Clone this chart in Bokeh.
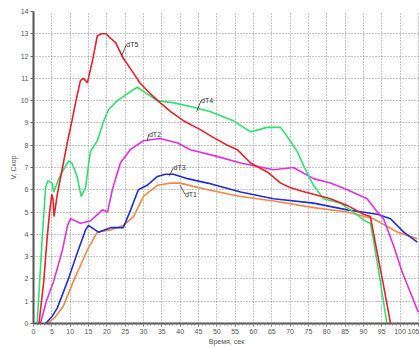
from bokeh.plotting import figure
from bokeh.models import Range1d, FixedTicker
from bokeh.core.properties import value
from bokeh.embed import file_html
from bokeh.resources import INLINE

# ---- data ----
x_dT5 = [1.5, 2.8, 3.7, 4.4, 5.0, 5.3, 5.6, 6.5, 7.8, 9.2, 10.5, 11.6, 12.8, 13.6, 14.7, 16.1, 17.4, 18.5, 19.8, 21.0,
         22.4, 24.5, 27.0, 29.0, 31.9, 34.6, 37.5, 40.9, 45.5, 49.0, 52.9, 55.6, 59.2, 63.8, 67.4, 70.0, 73.0, 76.4,
         81.0, 85.6, 90.0, 91.9, 92.7, 93.5, 95.5, 97.4]
y_dT5 = [0.0, 1.9, 3.8, 5.0, 5.8, 5.6, 4.8, 5.8, 6.9, 8.1, 9.1, 10.0, 10.9, 11.0, 10.8, 11.8, 12.9, 13.0, 13.0, 12.8,
         12.6, 11.9, 11.3, 10.8, 10.3, 9.9, 9.5, 9.1, 8.7, 8.35, 8.0, 7.8, 7.2, 6.8, 6.3, 6.1, 5.95, 5.8,
         5.6, 5.3, 4.9, 4.8, 4.1, 3.4, 1.7, 0.0]

x_dT4 = [1.0, 2.4, 3.3, 3.9, 5.1, 5.5, 6.0, 6.9, 8.2, 9.6, 10.5, 11.9, 13.0, 14.2, 15.5, 17.4, 19.2, 20.5, 22.9, 26.4,
         28.3, 31.0, 33.7, 38.3, 43.7, 48.3, 54.5, 59.2, 61.5, 63.7, 67.4, 70.0, 72.0, 74.2, 76.4, 79.1, 83.7, 87.3,
         90.5, 91.9, 92.7, 94.5, 96.4]
y_dT4 = [0.0, 3.9, 6.1, 6.4, 6.3, 5.9, 6.1, 6.5, 6.9, 7.3, 7.2, 6.6, 5.7, 6.1, 7.7, 8.2, 9.1, 9.6, 10.0, 10.4,
         10.6, 10.3, 10.0, 9.9, 9.7, 9.5, 9.1, 8.6, 8.7, 8.8, 8.8, 8.2, 7.7, 6.9, 6.2, 5.6, 5.4, 5.0,
         4.6, 4.5, 3.8, 2.0, 0.0]

x_dT2 = [1.9, 3.5, 5.5, 7.9, 9.3, 10.1, 11.5, 12.8, 15.5, 17.5, 18.8, 20.2, 21.5, 23.7, 26.4, 30.0, 34.6, 39.3, 42.8,
         50.0, 56.5, 65.5, 70.9, 76.4, 81.0, 85.6, 91.0, 93.8, 95.5, 98.2, 100.6, 102.8, 105.0]
y_dT2 = [0.0, 1.0, 1.9, 3.3, 4.4, 4.7, 4.6, 4.5, 4.6, 4.9, 5.1, 5.0, 6.0, 7.2, 7.8, 8.2, 8.3, 8.1, 7.8,
         7.5, 7.2, 6.9, 7.0, 6.5, 6.3, 6.0, 5.6, 5.0, 4.7, 3.5, 2.3, 1.4, 0.5]

x_dT3 = [3.3, 5.0, 6.5, 9.3, 12.0, 14.2, 15.0, 17.7, 21.0, 24.5, 26.5, 28.6, 31.0, 33.8, 36.0, 38.2, 42.0, 47.5, 56.5,
         65.5, 76.4, 85.6, 93.8, 97.4, 101.0, 104.7]
y_dT3 = [0.0, 0.3, 0.7, 1.9, 3.2, 4.2, 4.4, 4.1, 4.3, 4.3, 5.1, 6.0, 6.2, 6.6, 6.7, 6.7, 6.5, 6.3, 5.9,
         5.6, 5.4, 5.1, 4.9, 4.7, 4.1, 3.65]

x_dT1 = [3.8, 6.0, 8.2, 10.9, 14.7, 17.4, 21.0, 24.5, 27.3, 30.0, 33.8, 37.4, 40.0, 47.5, 56.5, 65.5, 76.4, 85.6, 92.7,
         99.3, 104.7]
y_dT1 = [0.0, 0.3, 0.8, 1.9, 3.3, 4.1, 4.2, 4.4, 4.8, 5.7, 6.2, 6.3, 6.3, 6.0, 5.7, 5.5, 5.2, 5.0, 4.7,
         4.1, 3.8]

series_names = ["dT5", "dT4", "dT2", "dT3", "dT1"]
x_ticks = list(range(0, 110, 5))
y_ticks = list(range(0, 15))

# label anchors (series point -> text position)
lab_x0 = [24.0, 44.5, 31.0, 37.0, 40.0]
lab_y0 = [12.0, 9.5, 8.2, 6.6, 6.2]
lab_x1 = [25.3, 45.7, 31.5, 38.2, 41.3]
lab_y1 = [12.5, 10.0, 8.5, 7.0, 5.8]

colors = ["#e8202a", "#30e070", "#e030e0", "#2030d0", "#f08848"]

p = figure(width=419, height=347, output_backend="svg", toolbar_location=None,
           x_range=Range1d(0, 105.3), y_range=Range1d(0, 14),
           min_border_left=33, min_border_top=11, min_border_bottom=22, min_border_right=0)
p.outline_line_color = None
p.background_fill_color = "white"

for ax in (p.xaxis[0], p.yaxis[0]):
    ax.axis_line_color = "#555555"
    ax.axis_line_width = 2
    ax.major_tick_line_color = "#666666"
    ax.minor_tick_line_color = "#888888"
    ax.major_tick_out = 3
    ax.major_tick_in = 0
    ax.minor_tick_out = 2
    ax.minor_tick_in = 0
    ax.major_label_text_font = "Liberation Sans"
    ax.major_label_text_font_size = "7px"
    ax.major_label_text_color = "#555555"
    ax.axis_label_text_font = "Liberation Sans"
    ax.axis_label_text_font_size = "7px"
    ax.axis_label_text_font_style = "normal"
    ax.axis_label_text_color = "#555555"
    ax.major_label_standoff = 2
    ax.axis_label_standoff = 1

p.xaxis[0].ticker = FixedTicker(ticks=x_ticks, minor_ticks=list(range(0, 106)))
p.yaxis[0].ticker = FixedTicker(ticks=y_ticks)
p.xaxis.axis_label = "Время, сек"
p.yaxis.axis_label = "V, Скор"

p.xgrid.ticker = FixedTicker(ticks=x_ticks)
p.ygrid.ticker = FixedTicker(ticks=y_ticks)
for g in (p.xgrid[0], p.ygrid[0]):
    g.grid_line_color = "#888888"
    g.grid_line_dash = "1 2"
    g.grid_line_width = 1

xs = [x_dT5, x_dT4, x_dT2, x_dT3, x_dT1]
ys = [y_dT5, y_dT4, y_dT2, y_dT3, y_dT1]
# draw order: bottom curves first
for i in [4, 3, 2, 1, 0]:
    p.line(xs[i], ys[i], line_color=colors[i], line_width=1.6)

p.segment(x0=lab_x0, y0=lab_y0, x1=lab_x1, y1=lab_y1, line_color="#333333", line_width=0.8)
p.text(x=lab_x1, y=lab_y1, text=series_names, text_font=value("Liberation Sans"),
       text_font_size="7px", text_color="#333333", text_baseline="middle", text_align="left")

open("out.html", "w").write(file_html(p, INLINE))
